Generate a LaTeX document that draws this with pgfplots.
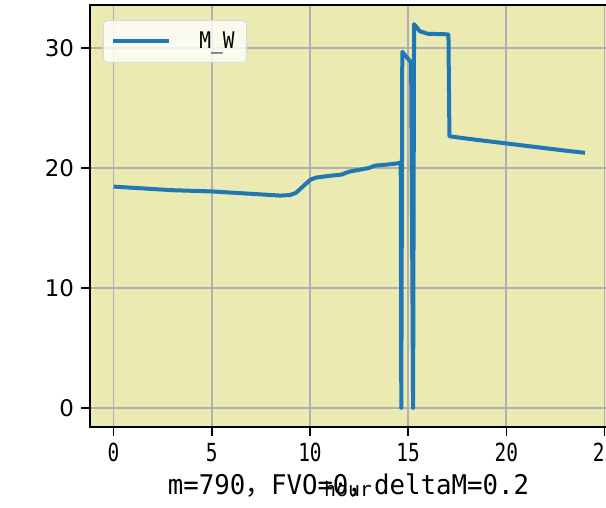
\documentclass[border=0pt]{standalone}
\usepackage{pgfplots}
\pgfplotsset{compat=1.18}
\usepackage{fontspec}
\setmainfont{DejaVu Sans}
\newfontfamily\mono{DejaVu Sans Mono}
\newfontfamily\cjk{Noto Sans CJK SC}
\definecolor{bgc}{HTML}{EBEAB2}
\definecolor{c1}{HTML}{1F77B4}
\definecolor{gridc}{HTML}{B0B0B0}
\definecolor{legc}{HTML}{D8D8D8}
\begin{document}
\begin{tikzpicture}[x=0.5bp,y=0.5bp]
\useasboundingbox (-90,-81) rectangle (516,427);
\begin{axis}[
  at={(0,0)}, anchor=south west,
  scale only axis, width=259.25bp, height=211bp,
  xmin=-1.2, xmax=25.2, ymin=-1.6, ymax=33.6,
  axis background/.style={fill=bgc},
  grid=major, grid style={color=gridc, line width=0.9bp},
  xtick={0,5,10,15,20,25}, ytick={0,10,20,30},
  xtick pos=bottom, ytick pos=left,
  tick align=outside, major tick length=4.5bp,
  tick style={black, line width=0.8bp},
  axis line style={black, line width=1bp},
  /pgf/number format/assume math mode=true,
  yticklabel style={font=\fontsize{11.5}{13}\selectfont},
  xticklabel style={font=\mono\fontsize{12.5}{14}\selectfont},
  xticklabel={\scalebox{0.78}[1]{\pgfmathprintnumber{\tick}}},
  legend style={at={(0.025,0.964)}, anchor=north west, fill=white, fill opacity=0.8, text opacity=1, draw=legc, rounded corners=2bp, font=\mono\fontsize{11.5}{13}\selectfont, inner xsep=4bp, inner ysep=3.5bp},
  legend cell align=left,
  legend image code/.code={\draw[#1] (0,0) -- (28bp,0);},
]
\addplot[c1, line width=2bp, line join=round] coordinates {
(0,18.45) (1,18.35) (2,18.25) (3,18.15) (4,18.1) (5,18.05) (6,17.95) (7,17.85) (8,17.75) (8.5,17.7) (9,17.75) (9.3,17.95) (9.6,18.4) (10,19.0) (10.3,19.2) (11,19.35) (11.6,19.45) (12,19.7) (12.5,19.85) (13,20.0) (13.3,20.2) (14,20.3) (14.5,20.4) (14.62,20.45) (14.65,0) (14.7,29.7) (15.15,28.8) (15.25,0) (15.3,32.0) (15.6,31.4) (16,31.2) (17.05,31.15) (17.1,22.65) (18,22.45) (19,22.25) (20,22.05) (21,21.85) (22,21.65) (23,21.45) (24,21.27)
};
\addlegendentry{\hspace{12bp}\scalebox{0.85}[1]{M\_W}}
\end{axis}
\node[font=\mono\fontsize{13.6}{15}\selectfont, inner sep=0pt] at (258.5,-59) {\scalebox{0.95}[1]{m=790{\cjk ，}FVO=0{\cjk ，}deltaM=0.2}};
\node[font=\mono\fontsize{10}{12}\selectfont, inner sep=0pt] at (258,-62) {hour};
\end{tikzpicture}
\end{document}
